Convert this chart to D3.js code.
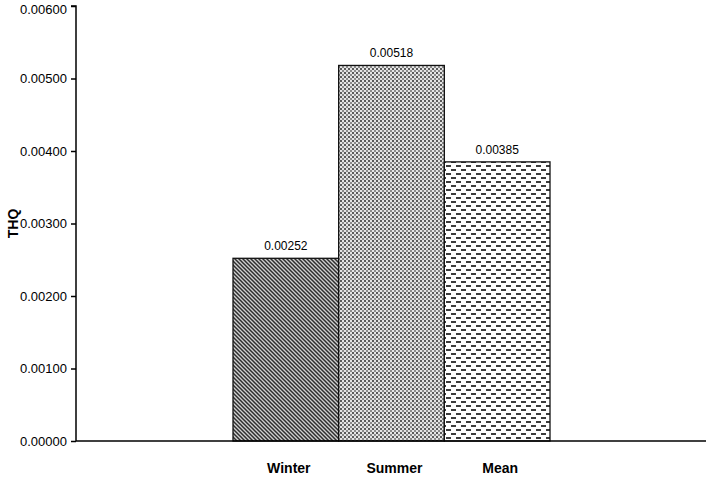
<!DOCTYPE html>
<html>
<head>
<meta charset="utf-8">
<script src="https://cdn.jsdelivr.net/npm/d3@7"></script>
<style>
  body { margin: 0; background: #fff; }
  svg { display: block; }
  .tick text { font-family: "Liberation Sans", Arial, sans-serif; font-size: 13px; fill: #000; }
  .cat { font-family: "Liberation Sans", Arial, sans-serif; font-size: 14px; font-weight: bold; }
  .val { font-family: "Liberation Sans", Arial, sans-serif; font-size: 12px; }
</style>
</head>
<body>
<div id="chart"></div>
<script>
const categories = ["Winter", "Summer", "Mean"];
const thqValues = [0.00252, 0.00518, 0.00385];
const valueLabels = ["0.00252", "0.00518", "0.00385"];
const yTicks = [0, 0.001, 0.002, 0.003, 0.004, 0.005, 0.006];
const patternIds = ["pat-diag", "pat-dots", "pat-dash"];

const width = 708, height = 479;
const axisX = 76, axisTop = 6, axisBottom = 441;

const svg = d3.select("#chart").append("svg")
    .attr("width", width)
    .attr("height", height);

// fill patterns, roughly like the Excel ones
const defs = svg.append("defs");

const diag = defs.append("pattern")
    .attr("id", "pat-diag")
    .attr("patternUnits", "userSpaceOnUse")
    .attr("width", 4).attr("height", 4);
diag.append("rect").attr("width", 4).attr("height", 4).attr("fill", "#cfcfcf");
diag.append("path")
    .attr("d", "M0,0 L4,4 M-1,3 L1,5 M3,-1 L5,1")
    .attr("stroke", "#2e2e2e")
    .attr("stroke-width", 1.5);

const dots = defs.append("pattern")
    .attr("id", "pat-dots")
    .attr("patternUnits", "userSpaceOnUse")
    .attr("width", 4).attr("height", 4);
dots.append("rect").attr("width", 4).attr("height", 4).attr("fill", "#e4e4e4");
dots.append("rect").attr("x", 0).attr("y", 0).attr("width", 2).attr("height", 2).attr("fill", "#5a5a5a");
dots.append("rect").attr("x", 2).attr("y", 2).attr("width", 2).attr("height", 2).attr("fill", "#8a8a8a");

const dash = defs.append("pattern")
    .attr("id", "pat-dash")
    .attr("patternUnits", "userSpaceOnUse")
    .attr("width", 10).attr("height", 8);
dash.append("rect").attr("width", 10).attr("height", 8).attr("fill", "#fff");
dash.append("rect").attr("x", 1).attr("y", 1).attr("width", 5).attr("height", 2).attr("fill", "#3c3c3c");
dash.append("rect").attr("x", 6).attr("y", 5).attr("width", 5).attr("height", 2).attr("fill", "#3c3c3c");
dash.append("rect").attr("x", -4).attr("y", 5).attr("width", 5).attr("height", 2).attr("fill", "#3c3c3c");

const x = d3.scaleBand()
    .domain(categories)
    .range([233, 550])
    .padding(0);

const y = d3.scaleLinear()
    .domain([0, 0.006])
    .range([axisBottom, axisTop]);

// y axis
const yAxis = svg.append("g")
    .attr("transform", `translate(${axisX},0)`)
    .call(d3.axisLeft(y).tickValues(yTicks).tickFormat(d3.format(".5f")).tickSize(5).tickPadding(4));
yAxis.select(".domain").attr("stroke", "#000").attr("stroke-width", 1.5).attr("d", `M-5,${axisTop}H0V${axisBottom}`);
yAxis.selectAll(".tick line").attr("stroke", "#000").attr("stroke-width", 1.5);
// keep the top label inside the picture
yAxis.selectAll(".tick text").filter(d => d === 0.006).attr("dy", "0.6em");

// bars
svg.selectAll(".bar")
    .data(categories)
    .enter().append("rect")
    .attr("class", "bar")
    .attr("x", d => x(d))
    .attr("y", (d, i) => y(thqValues[i]))
    .attr("width", x.bandwidth())
    .attr("height", (d, i) => axisBottom - y(thqValues[i]))
    .attr("fill", (d, i) => `url(#${patternIds[i]})`)
    .attr("stroke", "#111")
    .attr("stroke-width", 1.3);

// x baseline across the whole width
svg.append("line")
    .attr("x1", axisX).attr("x2", 706)
    .attr("y1", axisBottom).attr("y2", axisBottom)
    .attr("stroke", "#000")
    .attr("stroke-width", 1.5);

// value labels
svg.selectAll(".val")
    .data(categories)
    .enter().append("text")
    .attr("class", "val")
    .attr("x", d => x(d) + x.bandwidth() / 2)
    .attr("y", (d, i) => y(thqValues[i]) - 8)
    .attr("text-anchor", "middle")
    .text((d, i) => valueLabels[i]);

// category labels
svg.selectAll(".cat")
    .data(categories)
    .enter().append("text")
    .attr("class", "cat")
    .attr("x", d => x(d) + x.bandwidth() / 2 + 3)
    .attr("y", 473)
    .attr("text-anchor", "middle")
    .text(d => d);

// y title
svg.append("text")
    .attr("class", "cat")
    .attr("transform", `translate(18,${(axisTop + axisBottom) / 2}) rotate(-90)`)
    .attr("text-anchor", "middle")
    .text("THQ");
</script>
</body>
</html>
